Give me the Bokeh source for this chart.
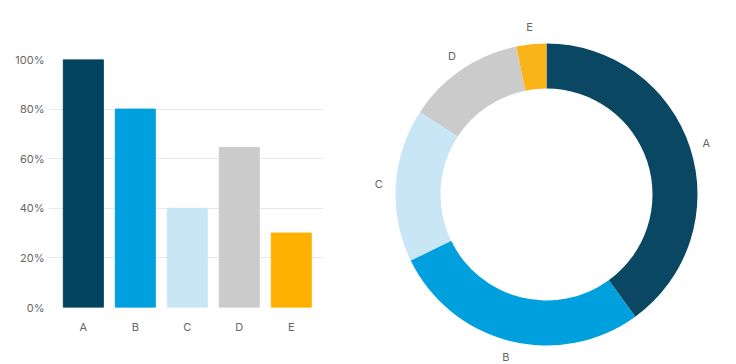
import numpy as np
from bokeh.plotting import figure
from bokeh.layouts import row, column
from bokeh.models import Range1d, FixedTicker, ColumnDataSource
from bokeh.core.properties import value
from bokeh.embed import file_html
from bokeh.resources import INLINE

# ---- data ----
categories = ["A", "B", "C", "D", "E"]
bar_values = [100, 80, 40, 64.5, 30]
donut_values = [40, 27.8, 16.4, 12.6, 3.2]
y_ticks = [0, 20, 40, 60, 80, 100]
y_tick_labels = ["0%", "20%", "40%", "60%", "80%", "100%"]
bar_colors = ["#02445f", "#00a0de", "#c8e6f6", "#cbcbcb", "#ffb100"]
donut_colors = ["#0a4762", "#00a0de", "#c8e6f6", "#cbcbcb", "#f8b418"]

FONT = "Inter"
TXT = "#666666"

# ---- bar chart ----
idx = list(range(len(categories)))
p1 = figure(width=340, height=364, output_backend="svg", toolbar_location=None,
            x_range=Range1d(-0.67, 4.62), y_range=Range1d(0, 100),
            min_border_left=48, min_border_right=17, min_border_top=59,
            min_border_bottom=57)
src = ColumnDataSource(dict(x=idx, top=bar_values, color=bar_colors))
p1.vbar(x="x", top="top", bottom=0, width=40 / 52, color="color", source=src)

p1.xaxis.ticker = FixedTicker(ticks=idx)
p1.xaxis.major_label_overrides = {i: c for i, c in zip(idx, categories)}
p1.yaxis.ticker = FixedTicker(ticks=y_ticks)
p1.yaxis.major_label_overrides = {t: l for t, l in zip(y_ticks, y_tick_labels)}
for ax in (p1.xaxis, p1.yaxis):
    ax.axis_line_color = None
    ax.major_tick_line_color = None
    ax.minor_tick_line_color = None
    ax.major_tick_out = 0
    ax.minor_tick_out = 0
    ax.major_label_text_font = FONT
    ax.major_label_text_font_size = "11px"
    ax.major_label_text_color = TXT
p1.yaxis.major_label_standoff = 4
p1.xaxis.major_label_standoff = 12
p1.xgrid.grid_line_color = None
p1.ygrid.ticker = FixedTicker(ticks=y_ticks)
p1.ygrid.grid_line_color = "#e8e8e8"
p1.outline_line_color = None

# ---- donut chart ----
vals = np.array(donut_values, dtype=float)
frac = vals / vals.sum()
cum_end = np.cumsum(frac)
cum_start = cum_end - frac
start_ang = np.pi / 2 - cum_start * 2 * np.pi
end_ang = np.pi / 2 - cum_end * 2 * np.pi
mid = np.pi / 2 - (cum_start + cum_end) / 2 * 2 * np.pi
r_lab = 168
p2 = figure(width=396, height=364, output_backend="svg", toolbar_location=None,
            x_range=Range1d(-206, 190), y_range=Range1d(-170, 194),
            min_border=0)
dsrc = ColumnDataSource(dict(start=start_ang, end=end_ang, color=donut_colors,
                             lx=r_lab * np.cos(mid), ly=r_lab * np.sin(mid),
                             label=categories))
p2.annular_wedge(x=0, y=0, inner_radius=106, outer_radius=151,
                 start_angle="start", end_angle="end", direction="clock",
                 color="color", line_color=None, source=dsrc)
p2.text(x="lx", y="ly", text="label", source=dsrc, text_align="center",
        text_baseline="middle", text_font=value(FONT), text_font_size="11px",
        text_color=TXT)
p2.axis.visible = False
p2.grid.grid_line_color = None
p2.outline_line_color = None

layout = row(column(p1), column(p2))
open("out.html", "w").write(file_html(layout, INLINE))
